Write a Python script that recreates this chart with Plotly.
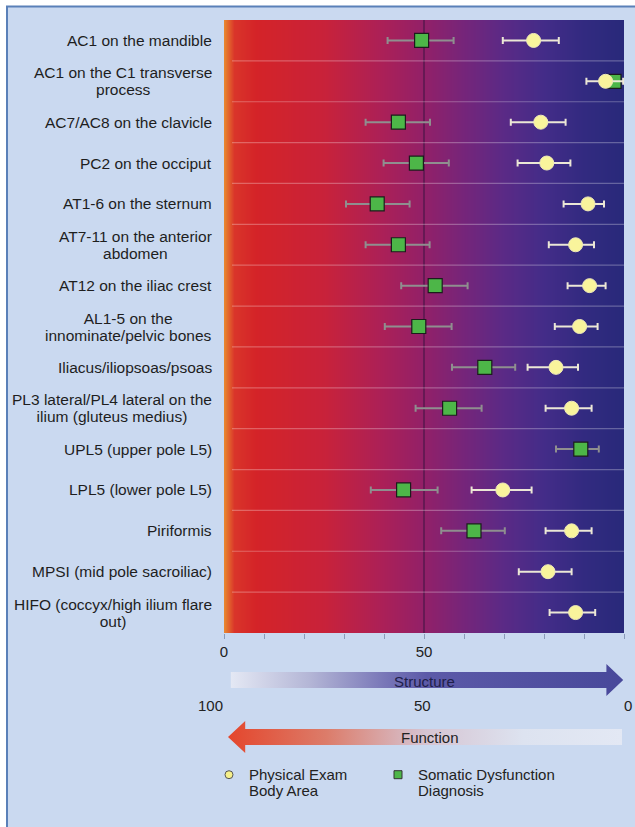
import numpy as np
import plotly.graph_objects as go

# ---------------- data ----------------
categories = [
    "AC1 on the mandible",
    "AC1 on the C1 transverse\nprocess",
    "AC7/AC8 on the clavicle",
    "PC2 on the occiput",
    "AT1-6 on the sternum",
    "AT7-11 on the anterior\nabdomen",
    "AT12 on the iliac crest",
    "AL1-5 on the\ninnominate/pelvic bones",
    "Iliacus/iliopsoas/psoas",
    "PL3 lateral/PL4 lateral on the\nilium (gluteus medius)",
    "UPL5 (upper pole L5)",
    "LPL5 (lower pole L5)",
    "Piriformis",
    "MPSI (mid pole sacroiliac)",
    "HIFO (coccyx/high ilium flare\nout)",
]

exam_mean = [77.4, 95.4, 79.2, 80.7, 91.0, 87.9, 91.4, 88.9, 83.0, 86.9, None, 69.7, 86.9, 81.0, 87.9]
exam_low = [69.7, 90.6, 71.7, 73.4, 84.9, 81.2, 85.9, 82.7, 75.9, 80.4, None, 61.9, 80.4, 73.7, 81.4]
exam_high = [83.7, 99.8, 85.4, 86.6, 95.0, 92.5, 95.4, 93.4, 88.5, 91.9, None, 76.9, 91.9, 86.9, 92.8]

sdd_mean = [49.4, 97.5, 43.6, 48.1, 38.3, 43.6, 52.8, 48.7, 65.2, 56.4, 89.2, 44.9, 62.5, None, None]
sdd_low = [40.9, 96.0, 35.4, 39.9, 30.5, 35.4, 44.3, 40.2, 57.0, 47.9, 83.0, 36.7, 54.3, None, None]
sdd_high = [57.4, 99.0, 51.5, 56.2, 46.4, 51.4, 60.9, 56.9, 72.8, 64.4, 93.7, 53.4, 70.2, None, None]

axis_ticks = [0, 10, 20, 30, 40, 50, 60, 70, 80, 90, 100]
axis_tick_labels = ["0", "", "", "", "", "50", "", "", "", "", "100"]
function_tick_labels = ["100", "50", "0"]
ref_value = 50
legend_names = ["Physical Exam\nBody Area", "Somatic Dysfunction\nDiagnosis"]
arrow_labels = ["Structure", "Function"]

# ---------------- layout constants ----------------
W, H = 635, 827
ML, MR, MT, MB = 224, 11, 20, 10
PLOT_H = H - MT - MB
FONT = "Liberation Sans, Arial, sans-serif"


def py2paper(py):
    return (H - MB - py) / PLOT_H


def px2paper(px):
    return (px - ML) / (W - ML - MR)


n = len(categories)
rows = list(range(n))
main_bottom = py2paper(633)


def errs(mean, low, high):
    plus = [None if m is None else h - m for m, h in zip(mean, high)]
    minus = [None if m is None else m - l for m, l in zip(mean, low)]
    return plus, minus


def multiline(s, size):
    return "<br>".join('<span style="font-size:%spx">%s</span>' % (size, p) for p in s.split("\n"))


fig = go.Figure()

# gradient background of the plotting area
gx = np.linspace(0, 100, 201)
bg_scale = [
    [0.0, "#e8862e"], [0.025, "#d9352a"], [0.08, "#d42328"], [0.25, "#c8223a"],
    [0.40, "#aa2058"], [0.50, "#922068"], [0.60, "#75257a"], [0.70, "#5a2a86"],
    [0.80, "#432c88"], [0.90, "#322a80"], [1.0, "#28297a"],
]
fig.add_trace(go.Heatmap(
    x=gx, y=[-0.5, n - 0.5], z=[gx, gx], zmin=0, zmax=100,
    colorscale=bg_scale, zsmooth="best", showscale=False, hoverinfo="skip",
))

# reference line at 50
fig.add_trace(go.Scatter(
    x=[ref_value, ref_value], y=[-0.5, n - 0.5], mode="lines",
    line=dict(color="#3a1240", width=1), showlegend=False, hoverinfo="skip",
))

# somatic dysfunction (squares)
sp, sm = errs(sdd_mean, sdd_low, sdd_high)
fig.add_trace(go.Scatter(
    x=sdd_mean, y=rows, mode="markers", showlegend=False,
    marker=dict(symbol="square", size=14, color="#4db648",
                line=dict(color="#1c1c1c", width=1.2)),
    error_x=dict(type="data", symmetric=False, array=sp, arrayminus=sm,
                 color="#8f8f8f", thickness=2, width=3.5),
))

# physical exam (circles)
ep, em = errs(exam_mean, exam_low, exam_high)
fig.add_trace(go.Scatter(
    x=exam_mean, y=rows, mode="markers", showlegend=False,
    marker=dict(symbol="circle", size=14, color="#f9f49c",
                line=dict(color="#efe9b8", width=1)),
    error_x=dict(type="data", symmetric=False, array=ep, arrayminus=em,
                 color="#ece7d6", thickness=2, width=3.5),
))

# legend-only entries (each in its own legend box)
fig.add_trace(go.Scatter(
    x=[None], y=[None], mode="markers", name=multiline(legend_names[0], 15), legend="legend",
    marker=dict(symbol="circle", size=8, color="#f6f08a", line=dict(color="#555", width=1)),
))
fig.add_trace(go.Scatter(
    x=[None], y=[None], mode="markers", name=multiline(legend_names[1], 15), legend="legend2",
    marker=dict(symbol="square", size=8, color="#4db648", line=dict(color="#333", width=1)),
))

# arrows (decorations in the lower panel)
fig.add_trace(go.Scatter(
    x=[1.7, 95.6, 95.6, 99.8, 95.6, 95.6, 1.7, 1.7],
    y=[672, 672, 664, 680, 696, 688, 688, 672],
    xaxis="x2", yaxis="y2", mode="lines", fill="toself", line=dict(width=0),
    fillgradient=dict(type="horizontal", colorscale=[
        [0.0, "#e4e8f4"], [0.2, "#b4b6d6"], [0.4, "#7674b6"], [0.5, "#5c5aa8"], [1.0, "#48489a"]]),
    showlegend=False, hoverinfo="skip",
))
fig.add_trace(go.Scatter(
    x=[99.5, 5.3, 5.3, 1.0, 5.3, 5.3, 99.5, 99.5],
    y=[729, 729, 721, 737, 753, 745, 745, 729],
    xaxis="x2", yaxis="y2", mode="lines", fill="toself", line=dict(width=0),
    fillgradient=dict(type="horizontal", colorscale=[
        [0.0, "#e4462c"], [0.25, "#dc7c6a"], [0.5, "#d6c4d2"], [0.75, "#dde3f0"], [1.0, "#e3e8f4"]]),
    showlegend=False, hoverinfo="skip",
))

# separators between rows
for i in range(1, n):
    fig.add_shape(type="line", xref="x", yref="y", x0=2, x1=100, y0=i - 0.5, y1=i - 0.5,
                  line=dict(color="rgba(255,255,255,0.28)", width=1.2), layer="above")

# page frame
fig.add_shape(type="rect", xref="paper", yref="paper",
              x0=px2paper(7), x1=px2paper(700), y0=py2paper(900), y1=py2paper(6.5),
              fillcolor="#cad9f0", line=dict(color="#5a80b8", width=2), layer="below")

# category labels
for i, lab in enumerate(categories):
    fig.add_annotation(x=px2paper(214), xref="paper", y=i, yref="y", text=multiline(lab, 15.5),
                       xanchor="right", yanchor="middle", align="center", showarrow=False,
                       font=dict(family=FONT, size=12.7, color="#1e1e1e"))

# arrow labels
fig.add_annotation(x=ref_value, y=681, xref="x2", yref="y2", text=arrow_labels[0],
                   showarrow=False, font=dict(family=FONT, size=15, color="#20204a"))
fig.add_annotation(x=ref_value + 1.5, y=737, xref="x2", yref="y2", text=arrow_labels[1],
                   showarrow=False, font=dict(family=FONT, size=15, color="#222222"))

# function scale labels
for lab, xv, anc in zip(function_tick_labels, [0.3, 49.6, 99.6], ["right", "center", "left"]):
    fig.add_annotation(x=xv, y=705, xref="x2", yref="y2", text=lab, xanchor=anc,
                       showarrow=False, font=dict(family=FONT, size=15, color="#222222"))

legend_common = dict(yanchor="top", valign="top", xanchor="left",
                     font=dict(family=FONT, size=12.6, color="#222222"),
                     bgcolor="rgba(0,0,0,0)", itemclick=False, itemdoubleclick=False)

fig.update_layout(
    width=W, height=H,
    margin=dict(l=ML, r=MR, t=MT, b=MB),
    paper_bgcolor="white", plot_bgcolor="rgba(0,0,0,0)",
    font=dict(family=FONT, size=15, color="#222222"),
    showlegend=True,
    legend=dict(x=px2paper(209), y=py2paper(760), **legend_common),
    legend2=dict(x=px2paper(378), y=py2paper(760), **legend_common),
    xaxis=dict(range=[0, 100], domain=[0, 1], anchor="y", tickvals=axis_ticks,
               ticktext=axis_tick_labels, ticks="outside", ticklen=5, tickwidth=1,
               tickcolor="#8a9ab8", showgrid=False, zeroline=False, showline=False,
               tickfont=dict(family=FONT, size=15, color="#222222")),
    yaxis=dict(range=[n - 0.5, -0.5], domain=[main_bottom, 1], showticklabels=False,
               showgrid=False, zeroline=False, ticks=""),
    xaxis2=dict(range=[0, 100], domain=[0, 1], anchor="y2", visible=False),
    yaxis2=dict(range=[H - MB, 633], domain=[0, main_bottom], anchor="x2", visible=False),
)

fig.write_html("out.html", config={"displayModeBar": False},
               post_script="document.body.style.margin='0';")
